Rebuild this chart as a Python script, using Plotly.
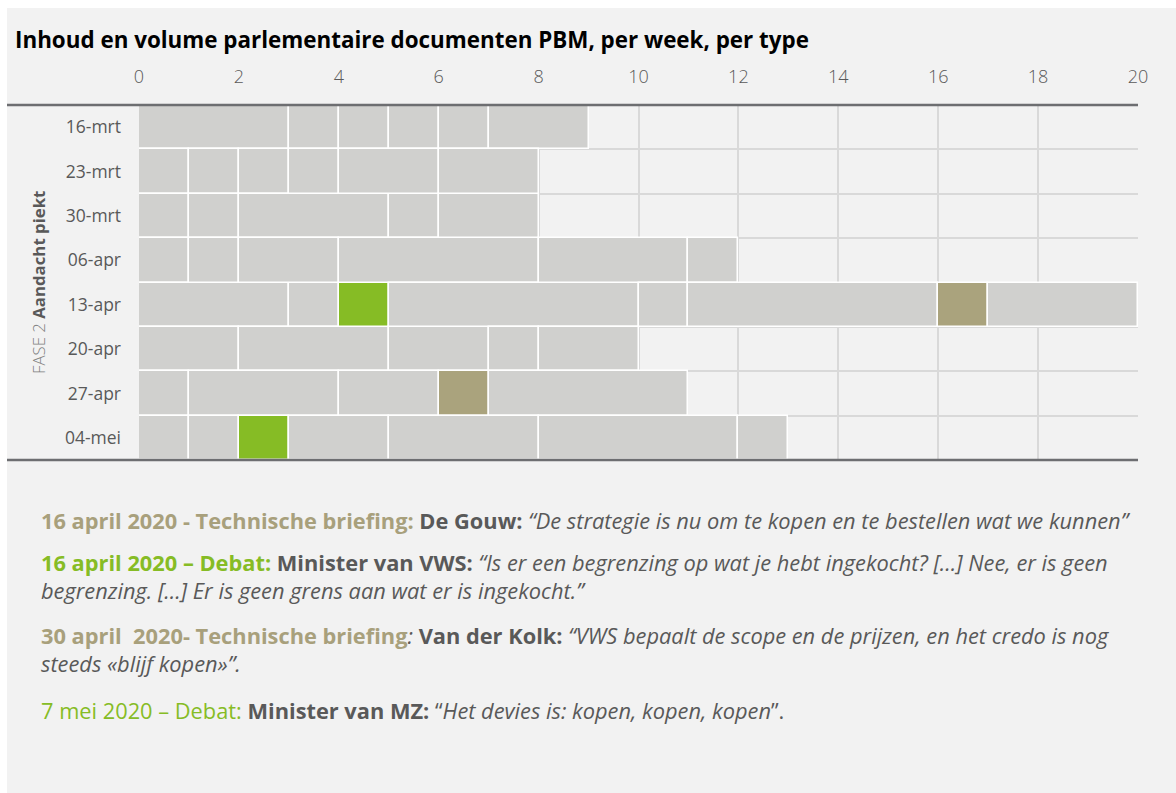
import plotly.graph_objects as go

# Weeks (rows, top to bottom)
weeks = ["16-mrt", "23-mrt", "30-mrt", "06-apr", "13-apr", "20-apr", "27-apr", "04-mei"]

# Document blocks per week: length of each block (in number of documents)
segments = [
    [3, 1, 1, 1, 1, 2],
    [1, 1, 1, 1, 2, 2],
    [1, 1, 3, 1, 2],
    [1, 1, 2, 4, 3, 1],
    [3, 1, 1, 5, 1, 5, 1, 3],
    [2, 3, 2, 1, 2],
    [1, 3, 2, 1, 4],
    [1, 1, 1, 2, 3, 4, 1],
]

# Type of each block: o = overig, d = debat, b = technische briefing
seg_types = [
    ["o", "o", "o", "o", "o", "o"],
    ["o", "o", "o", "o", "o", "o"],
    ["o", "o", "o", "o", "o"],
    ["o", "o", "o", "o", "o", "o"],
    ["o", "o", "d", "o", "o", "o", "b", "o"],
    ["o", "o", "o", "o", "o"],
    ["o", "o", "o", "b", "o"],
    ["o", "o", "d", "o", "o", "o", "o"],
]

x_ticks = list(range(0, 21, 2))

TYPE_COLORS = {"o": "#d0d0ce", "d": "#86bc25", "b": "#aaa37d"}
BG = "#f2f2f2"
GRID = "#d9d9d9"
AXIS_LINE = "#6d6e71"
TEXT = "#595959"
GREEN = "#86bc25"
TAN = "#a8a07c"

W, H = 1176, 793
L, R, T, B = 139, 1138, 105, 460  # plot area in pixels

fig = go.Figure()

# one bar trace per block position, stacked
max_len = max(len(s) for s in segments)
for k in range(max_len):
    xs, bases, ys, cols = [], [], [], []
    for wk, segs, types in zip(weeks, segments, seg_types):
        if k < len(segs):
            xs.append(segs[k])
            bases.append(sum(segs[:k]))
            ys.append(wk)
            cols.append(TYPE_COLORS[types[k]])
    fig.add_trace(go.Bar(
        x=xs, y=ys, base=bases, orientation="h",
        marker=dict(color=cols, line=dict(color="white", width=1.5)),
        showlegend=False, hoverinfo="skip",
    ))


def px_x(p):
    return (p - L) / (R - L)


def px_y(p):
    return (B - p) / (B - T)


fig.update_layout(
    width=W, height=H,
    margin=dict(l=L, r=W - R, t=T, b=H - B, pad=0),
    paper_bgcolor="white",
    plot_bgcolor=BG,
    barmode="overlay",
    bargap=0,
    xaxis=dict(
        range=[0, 20], side="top", tickvals=x_ticks,
        showgrid=True, gridcolor=GRID, gridwidth=2,
        zeroline=False, showline=False,
        ticks="", ticklabelstandoff=17,
        tickfont=dict(family="Open Sans", size=18, color=TEXT, weight=300),
    ),
    yaxis=dict(
        categoryorder="array", categoryarray=weeks, autorange="reversed",
        tickson="boundaries", showgrid=True, gridcolor=GRID, gridwidth=2,
        zeroline=False, showline=False, ticks="",
        ticklabelstandoff=17,
        tickfont=dict(family="Open Sans", size=17.5, color=TEXT),
    ),
    font=dict(family="Open Sans", color=TEXT),
)

# panel background and the two horizontal rules
fig.add_shape(type="rect", xref="paper", yref="paper",
              x0=px_x(7), x1=px_x(W + 5), y0=px_y(H + 5), y1=px_y(8),
              fillcolor=BG, line=dict(width=0), layer="below")
for yy in (T, B):
    fig.add_shape(type="line", xref="paper", yref="paper",
                  x0=px_x(7), x1=px_x(R), y0=px_y(yy), y1=px_y(yy),
                  line=dict(color=AXIS_LINE, width=2.5), layer="above")

# title
fig.add_annotation(
    text="<b>Inhoud en volume parlementaire documenten PBM, per week, per type</b>",
    xref="paper", yref="paper", x=px_x(13), y=px_y(39),
    xanchor="left", yanchor="middle", showarrow=False,
    font=dict(family="Open Sans", size=22.4, color="#000000"),
)

# phase label
fig.add_annotation(
    text="<span style='font-weight:300;color:#7f7f7f'>FASE 2</span> <b>Aandacht piekt</b>",
    xref="paper", yref="paper", x=px_x(38), y=px_y(283),
    xanchor="center", yanchor="middle", textangle=-90, showarrow=False,
    font=dict(family="Open Sans", size=16.8, color=TEXT),
)


def c(col, s):
    return f"<span style='color:{col}'>{s}</span>"


quote_lines = [
    (520, c(TAN, "<b>16 april 2020 - Technische briefing:</b>") + " <b>De Gouw:</b> "
          "<i>“De strategie is nu om te kopen en te bestellen wat we kunnen”</i>"),
    (562, c(GREEN, "<b>16 april 2020 – Debat:</b>") + " <b>Minister van VWS:</b> "
          "<i>“Is er een begrenzing op wat je hebt ingekocht? […] Nee, er is geen</i>"),
    (590, "<i>begrenzing. […] Er is geen grens aan wat er is ingekocht.”</i>"),
    (635, c(TAN, "<b>30 april  2020- Technische briefing</b>") + "<i>:</i> <b>Van der Kolk:</b> "
          "<i>“VWS bepaalt de scope en de prijzen, en het credo is nog</i>"),
    (663, "<i>steeds «blijf kopen»”.</i>"),
    (710, c(GREEN, "7 mei 2020 – Debat:") + " <b>Minister van MZ:</b> "
          "“<i>Het devies is: kopen, kopen, kopen</i>”."),
]
for ypx, txt in quote_lines:
    fig.add_annotation(
        text=txt, xref="paper", yref="paper", x=px_x(39), y=px_y(ypx),
        xanchor="left", yanchor="middle", showarrow=False,
        font=dict(family="Open Sans", size=21.8, color=TEXT),
    )

fig.write_html("out.html")
